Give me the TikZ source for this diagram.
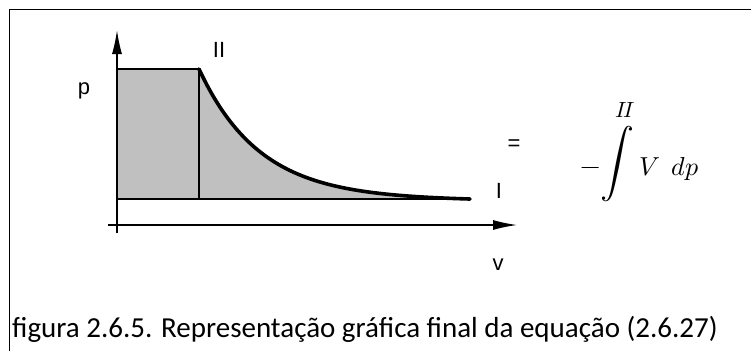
\documentclass[tikz,border=0pt]{standalone}
\usepackage{unicode-math}
\setmainfont{Liberation Sans}
\setmathfont{Latin Modern Math}
\newfontfamily\capfont{Carlito}
\usetikzlibrary{arrows.meta}
\definecolor{areagray}{HTML}{C0C0C0}
\tikzset{
  axis/.style={line width=1.3pt, -{Latex[length=24pt,width=10pt]}},
  edge/.style={line width=1.3pt},
  curveline/.style={line width=3.6pt, line cap=round},
  lbl/.style={inner sep=0pt, font=\fontsize{22}{26}\selectfont},
  mathlbl/.style={inner sep=0pt, font=\fontsize{26}{30}\selectfont},
  suplbl/.style={inner sep=0pt, font=\fontsize{22}{26}\selectfont},
  intlbl/.style={inner sep=0pt, font=\fontsize{34}{40}\selectfont},
}
\begin{document}
\begin{tikzpicture}[x=1pt,y=-1pt]
\useasboundingbox (0,0) rectangle (751,351);
% frame
\draw[line width=1.8pt] (9.5,351) -- (9.5,9.5) -- (751,9.5);
% shaded area
\fill[areagray] (117,199) -- (117,69) -- (199,69)
  -- plot[domain=0:271, samples=80, smooth] ({199+\x}, {199-130*exp(-0.0165*\x)+1.5*\x/271})
  -- cycle;
% rectangle edges
\draw[edge] (117,69) -- (199,69) -- (199,199);
\draw[edge] (117,199) -- (470,199);
% curve
\draw[curveline] plot[domain=0:271, samples=80, smooth] ({199+\x}, {199-130*exp(-0.0165*\x)+1.5*\x/271});
% axes
\coordinate (yb) at (117,233);
\coordinate (yt) at (117,30);
\coordinate (xl) at (108,225);
\coordinate (xr) at (517,225);
\draw[axis] (yb) -- (yt);
\draw[axis] (xl) -- (xr);
% labels
\node[lbl, anchor=base] (lp) at (84,94) {p};
\node[lbl, anchor=base] (lII) at (219,57) {II};
\node[lbl, anchor=base] (lI) at (499,198) {I};
\node[lbl, anchor=base] (lv) at (498,270) {v};
\node[lbl, anchor=base] (leq) at (514,150) {=};
% formula
\node[mathlbl] (lminus) at (591,171) {$-$};
\node[intlbl] (lintsign) at (617,164) {$\displaystyle\int$};
\node[suplbl, anchor=base] (lsup) at (625,117) {$I\!I$};
\node[mathlbl, anchor=base west] (lvdp) at (639,175) {$V\ \,dp$};
% caption
\node[inner sep=0pt, anchor=base west, font=\capfont\fontsize{29}{34}\selectfont] (cap) at (12,337) {figura 2.6.5. Representação gráfica final da equação (2.6.27)};
\end{tikzpicture}
\end{document}
